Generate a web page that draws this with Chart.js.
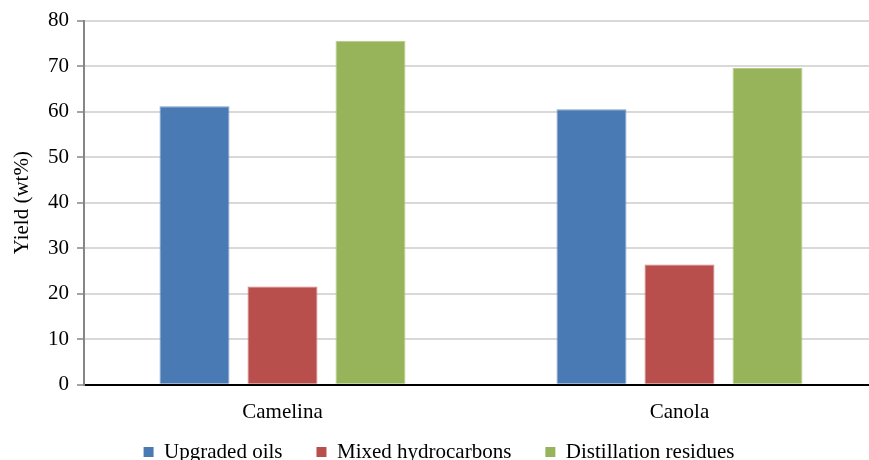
<!DOCTYPE html>
<html>
<head>
<meta charset="utf-8">
<script src="https://cdn.jsdelivr.net/npm/chart.js@4/dist/chart.umd.min.js"></script>
<style>
  html, body { margin: 0; padding: 0; background: #fff; overflow: hidden; }
  #wrap { width: 878px; height: 505px; }
</style>
</head>
<body>
<div id="wrap"><canvas id="c" width="878" height="505"></canvas></div>
<script>
// Product yields from the two feedstocks
const categories = ['Camelina', 'Canola'];
const seriesNames = ['Upgraded oils', 'Mixed hydrocarbons', 'Distillation residues'];
const upgradedOils = [61.2, 60.5];
const mixedHydrocarbons = [21.6, 26.4];
const distillationResidues = [75.6, 69.6];
const yTitle = 'Yield (wt%)';

const fills = ['#4a7ab3', '#b84f4c', '#97b45b'];
const edges = ['#7d9fcc', '#d3817e', '#b5cc86'];
const FONT = '"Liberation Serif", "Times New Roman", serif';
const LEGEND_ROW_Y = 452;

const values = [upgradedOils, mixedHydrocarbons, distillationResidues];

// Pull the legend row up close under the category labels
const legendRow = {
  id: 'legendRow',
  afterLayout(chart) {
    const lg = chart.legend;
    if (!lg) return;
    const pad = lg.options.labels.padding;
    const size = lg.options.labels.font.size;
    const top = LEGEND_ROW_Y - pad - size / 2;
    const h = lg.bottom - lg.top;
    lg.top = top;
    lg.bottom = top + h;
  }
};

new Chart(document.getElementById('c'), {
  type: 'bar',
  data: {
    labels: categories,
    datasets: seriesNames.map((name, i) => ({
      label: name,
      data: values[i],
      backgroundColor: fills[i],
      borderColor: edges[i],
      borderWidth: 1,
      categoryPercentage: 0.665,
      barPercentage: 0.795
    }))
  },
  plugins: [legendRow],
  options: {
    responsive: false,
    animation: false,
    layout: { padding: { top: 19, left: 0, right: 0, bottom: 0 } },
    plugins: {
      tooltip: { enabled: false },
      legend: {
        position: 'bottom',
        labels: {
          font: { family: FONT, size: 21 },
          color: '#000',
          boxWidth: 10,
          boxHeight: 10,
          padding: 34,
          generateLabels: (chart) => chart.data.datasets.map((d, i) => ({
            text: d.label,
            fillStyle: fills[i],
            strokeStyle: fills[i],
            lineWidth: 0,
            datasetIndex: i
          }))
        }
      }
    },
    scales: {
      x: {
        grid: { display: false, drawTicks: false },
        border: { display: true, color: '#000', width: 2 },
        ticks: { font: { family: FONT, size: 21 }, color: '#000', padding: 15 }
      },
      y: {
        min: 0,
        max: 80,
        ticks: {
          stepSize: 5,
          font: { family: FONT, size: 21 },
          color: '#000',
          padding: 8,
          callback: (v) => (v % 10 === 0 ? String(v) : '')
        },
        grid: {
          color: (ctx) => (ctx.tick && ctx.tick.value % 10 === 0 && ctx.tick.value !== 0 ? '#d9d9d9' : 'rgba(0,0,0,0)'),
          lineWidth: 2,
          tickColor: '#868686',
          tickLength: 7,
          tickWidth: 1.5
        },
        border: { display: true, color: '#868686', width: 2 },
        title: {
          display: true,
          text: yTitle,
          font: { family: FONT, size: 21 },
          color: '#000',
          padding: { top: 10, bottom: 0 }
        },
        afterFit: (s) => { s.width = 84; }
      }
    }
  }
});
</script>
</body>
</html>
